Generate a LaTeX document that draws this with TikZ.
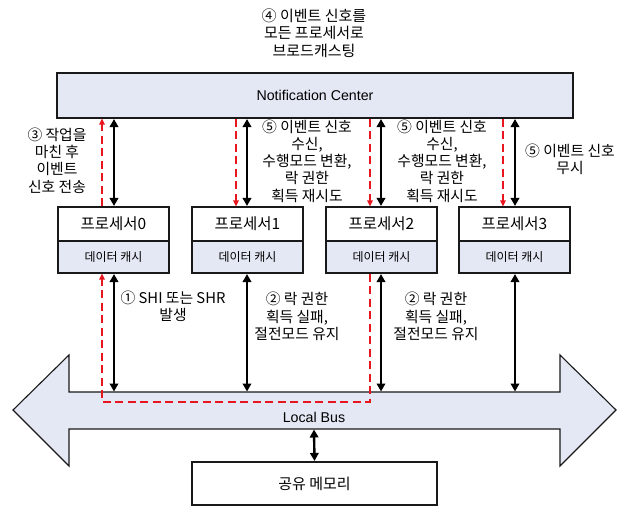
\documentclass[tikz,border=0pt]{standalone}
\usepackage{fontspec}
\setmainfont{Liberation Sans}
\newfontfamily\kr{Noto Sans CJK KR}
\usetikzlibrary{arrows.meta}
\definecolor{panel}{RGB}{228,232,244}
\definecolor{redc}{RGB}{232,22,30}
\definecolor{edge}{RGB}{25,25,25}
\begin{document}
\begin{tikzpicture}[x=1pt,y=-1pt,
  box/.style={draw=edge, line width=1.1pt, inner sep=0pt},
  lbl/.style={align=center, font=\kr\fontsize{14.8}{17.3}\selectfont, inner sep=0pt},
  proc/.style={box, fill=white, minimum width=111pt, minimum height=34pt, font=\kr\fontsize{15.5}{18}\selectfont},
  cache/.style={box, fill=panel, minimum width=111pt, minimum height=32pt, font=\kr\fontsize{12}{14}\selectfont},
  biarrow/.style={{Triangle[length=8pt,width=8.5pt]}-{Triangle[length=8pt,width=8.5pt]}, line width=2.4pt, draw=black, shorten <=0.5pt, shorten >=0.5pt},
  redarrow/.style={-{Triangle[length=6pt,width=5.5pt]}, draw=redc, line width=1.4pt, dash pattern=on 8pt off 4.5pt}
]
\useasboundingbox (0,0) rectangle (627,506);

% title
\node[lbl, font=\kr\fontsize{15}{17.6}\selectfont] (title) at (314,33) {④ 이벤트 신호를\\모든 프로세서로\\브로드캐스팅};

% notification center
\node[box, fill=panel, minimum width=516pt, minimum height=45pt, font=\fontsize{14.2}{16}\selectfont] (nc) at (315,95.5) {Notification Center};

% processors
\node[proc] (p0) at (113.5,224) {프로세서0};
\node[cache] (c0) at (113.5,257) {데이터 캐시};
\node[proc] (p1) at (247.5,224) {프로세서1};
\node[cache] (c1) at (247.5,257) {데이터 캐시};
\node[proc] (p2) at (381.5,224) {프로세서2};
\node[cache] (c2) at (381.5,257) {데이터 캐시};
\node[proc] (p3) at (514.5,224) {프로세서3};
\node[cache] (c3) at (514.5,257) {데이터 캐시};

% bus
\draw[box, fill=panel] (13,410) -- (69,355) -- (69,392) -- (560,392) -- (560,355) -- (616,410)
  -- (560,466) -- (560,429) -- (69,429) -- (69,466) -- cycle;
\node[font=\fontsize{14.2}{16}\selectfont, inner sep=0pt] (bus) at (314,417) {Local Bus};
\coordinate (bustop) at (314,392);
\coordinate (busbot) at (314,429);

% shared memory
\node[box, fill=white, minimum width=245pt, minimum height=43pt, font=\kr\fontsize{15}{18}\selectfont] (mem) at (314.5,483.5) {공유 메모리};

% x positions
\coordinate (b0) at (114,0);
\coordinate (b1) at (247,0);
\coordinate (b2) at (381,0);
\coordinate (b3) at (515,0);
\coordinate (r0) at (102,0);
\coordinate (r1) at (236,0);
\coordinate (r2) at (370,0);
\coordinate (r3) at (503,0);
\coordinate (redline) at (0,402);

% black double arrows upper
\draw[biarrow] (nc.south -| b0) -- (p0.north -| b0);
\draw[biarrow] (nc.south -| b1) -- (p1.north -| b1);
\draw[biarrow] (nc.south -| b2) -- (p2.north -| b2);
\draw[biarrow] (nc.south -| b3) -- (p3.north -| b3);
% black double arrows lower
\draw[biarrow] (c0.south -| b0) -- (bustop -| b0);
\draw[biarrow] (c1.south -| b1) -- (bustop -| b1);
\draw[biarrow] (c2.south -| b2) -- (bustop -| b2);
\draw[biarrow] (c3.south -| b3) -- (bustop -| b3);
\draw[biarrow] (busbot) -- (mem.north);

% red dashed
\draw[redarrow] (p0.north -| r0) -- (nc.south -| r0);
\draw[redarrow] (nc.south -| r1) -- (p1.north -| r1);
\draw[redarrow] (nc.south -| r2) -- (p2.north -| r2);
\draw[redarrow] (nc.south -| r3) -- (p3.north -| r3);
\draw[redarrow] (c2.south -| r2) -- (redline -| r2) -- (redline -| r0) -- (c0.south -| r0);

% labels
\node[lbl] (l3) at (57,160.5) {③ 작업을\\마친 후\\이벤트\\신호 전송};
\node[lbl] (l5a) at (307,161) {⑤ 이벤트 신호\\수신,\\수행모드 변환,\\락 권한\\획득 재시도};
\node[lbl] (l5b) at (442,161) {⑤ 이벤트 신호\\수신,\\수행모드 변환,\\락 권한\\획득 재시도};
\node[lbl] (l5c) at (570,159.5) {⑤ 이벤트 신호\\무시};
\node[lbl] (l1) at (173,306.5) {① SHI 또는 SHR\\발생};
\node[lbl] (l2a) at (297,316.5) {② 락 권한\\획득 실패,\\절전모드 유지};
\node[lbl] (l2b) at (436,316.5) {② 락 권한\\획득 실패,\\절전모드 유지};
\end{tikzpicture}
\end{document}
